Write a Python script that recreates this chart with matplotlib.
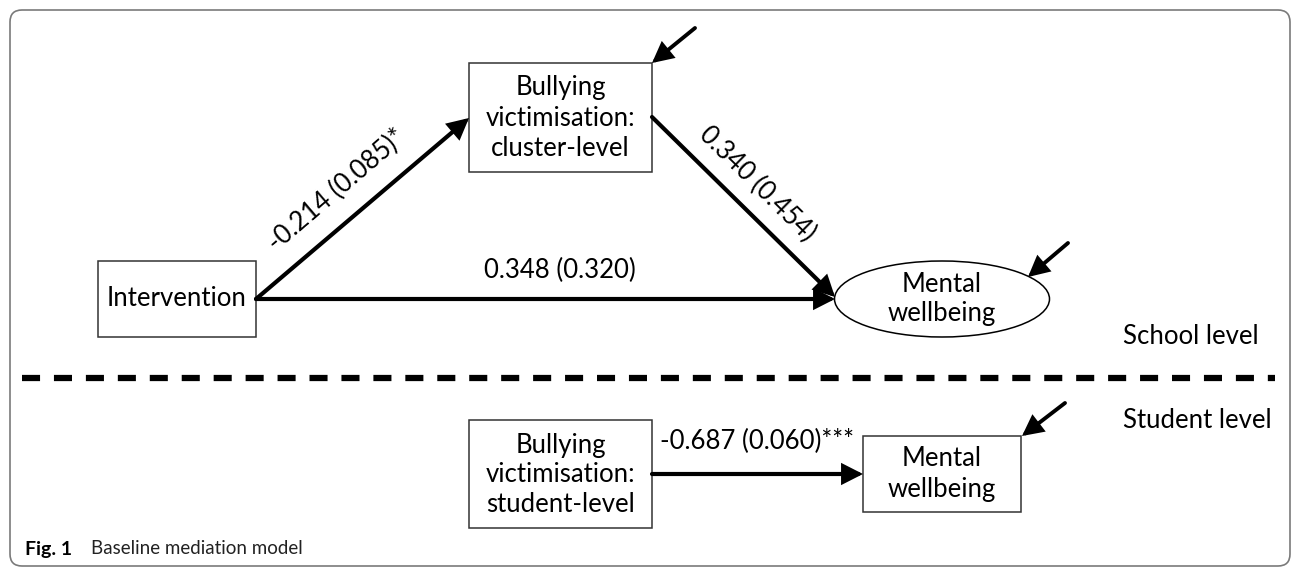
import matplotlib
matplotlib.use("Agg")
import matplotlib.pyplot as plt
from matplotlib.patches import Rectangle, Ellipse, FancyArrowPatch, FancyBboxPatch

plt.rcParams['font.family'] = ['Lato', 'DejaVu Sans']

# node texts
school_nodes = ["Intervention", "Bullying\nvictimisation:\ncluster-level", "Mental\nwellbeing"]
student_nodes = ["Bullying\nvictimisation:\nstudent-level", "Mental\nwellbeing"]
# path coefficients (SE) and stars
school_paths = ["-0.214 (0.085)*", "0.340 (0.454)", "0.348 (0.320)"]
student_paths = ["-0.687 (0.060)***"]
level_labels = ["School level", "Student level"]
caption_bold = "Fig. 1"
caption_text = "Baseline mediation model"

W, H = 1293, 567
fig = plt.figure(figsize=(W / 100, H / 100), dpi=100)
ax = fig.add_axes([0, 0, 1, 1])
ax.set_xlim(0, W)
ax.set_ylim(H, 0)
ax.axis("off")

FS = 18.5
LS = 1.25
box_kw = dict(fill=False, edgecolor="#333333", lw=1.1)

# outer frame
ax.add_patch(FancyBboxPatch((10, 10), 1280, 556, boxstyle="round,pad=0,rounding_size=12",
                            fill=False, edgecolor="#7a7a7a", lw=1.2))

# school level nodes
ax.add_patch(Rectangle((98, 261), 158, 76, **box_kw))
ax.text(177, 299, school_nodes[0], ha="center", va="center", fontsize=FS)
ax.add_patch(Rectangle((469, 63), 183, 109, **box_kw))
ax.text(560.5, 118, school_nodes[1], ha="center", va="center", fontsize=FS, linespacing=LS)
ax.add_patch(Ellipse((942, 299), 215, 76, fill=False, edgecolor="black", lw=1.1))
ax.text(942, 299, school_nodes[2], ha="center", va="center", fontsize=FS, linespacing=LS)

# student level nodes
ax.add_patch(Rectangle((469, 420), 183, 108, **box_kw))
ax.text(560.5, 475, student_nodes[0], ha="center", va="center", fontsize=FS, linespacing=LS)
ax.add_patch(Rectangle((863, 436), 158, 76, **box_kw))
ax.text(942, 474, student_nodes[1], ha="center", va="center", fontsize=FS, linespacing=LS)


def arrow(p0, p1, lw=3.0):
    a = FancyArrowPatch(p0, p1, arrowstyle="-|>,head_length=0.55,head_width=0.28",
                        mutation_scale=20, lw=lw, color="black",
                        shrinkA=0, shrinkB=0, joinstyle="miter")
    ax.add_patch(a)


# paths
arrow((256, 299), (469, 118))
arrow((652, 117), (835, 297))
arrow((256, 299), (835, 299))
arrow((652, 474), (863, 474))
# residuals
arrow((695, 28), (652, 63), lw=2.8)
arrow((1068, 243), (1028, 277), lw=2.8)
arrow((1065, 403), (1022, 436), lw=2.8)

# path labels
ax.text(337, 190, school_paths[0], ha="center", va="center", fontsize=FS,
        rotation=40.5, rotation_mode="anchor")
ax.text(757, 184, school_paths[1], ha="center", va="center", fontsize=FS,
        rotation=-44.5, rotation_mode="anchor")
ax.text(560, 270, school_paths[2], ha="center", va="center", fontsize=FS)
ax.text(757, 441, student_paths[0], ha="center", va="center", fontsize=FS)

# level divider
ax.plot([22, 1275], [378, 378], color="black", lw=4.5,
        linestyle=(0, (13 / 4.5, 10 / 4.5)), solid_capstyle="butt", dash_capstyle="butt")
ax.text(1123, 337, level_labels[0], ha="left", va="center", fontsize=FS)
ax.text(1123, 420, level_labels[1], ha="left", va="center", fontsize=FS)

# caption
ax.text(25, 549, caption_bold, ha="left", va="center", fontsize=14, fontweight="bold")
ax.text(91, 549, caption_text, ha="left", va="center", fontsize=13.5, color="#222222")

fig.savefig("out.png", dpi=100)
